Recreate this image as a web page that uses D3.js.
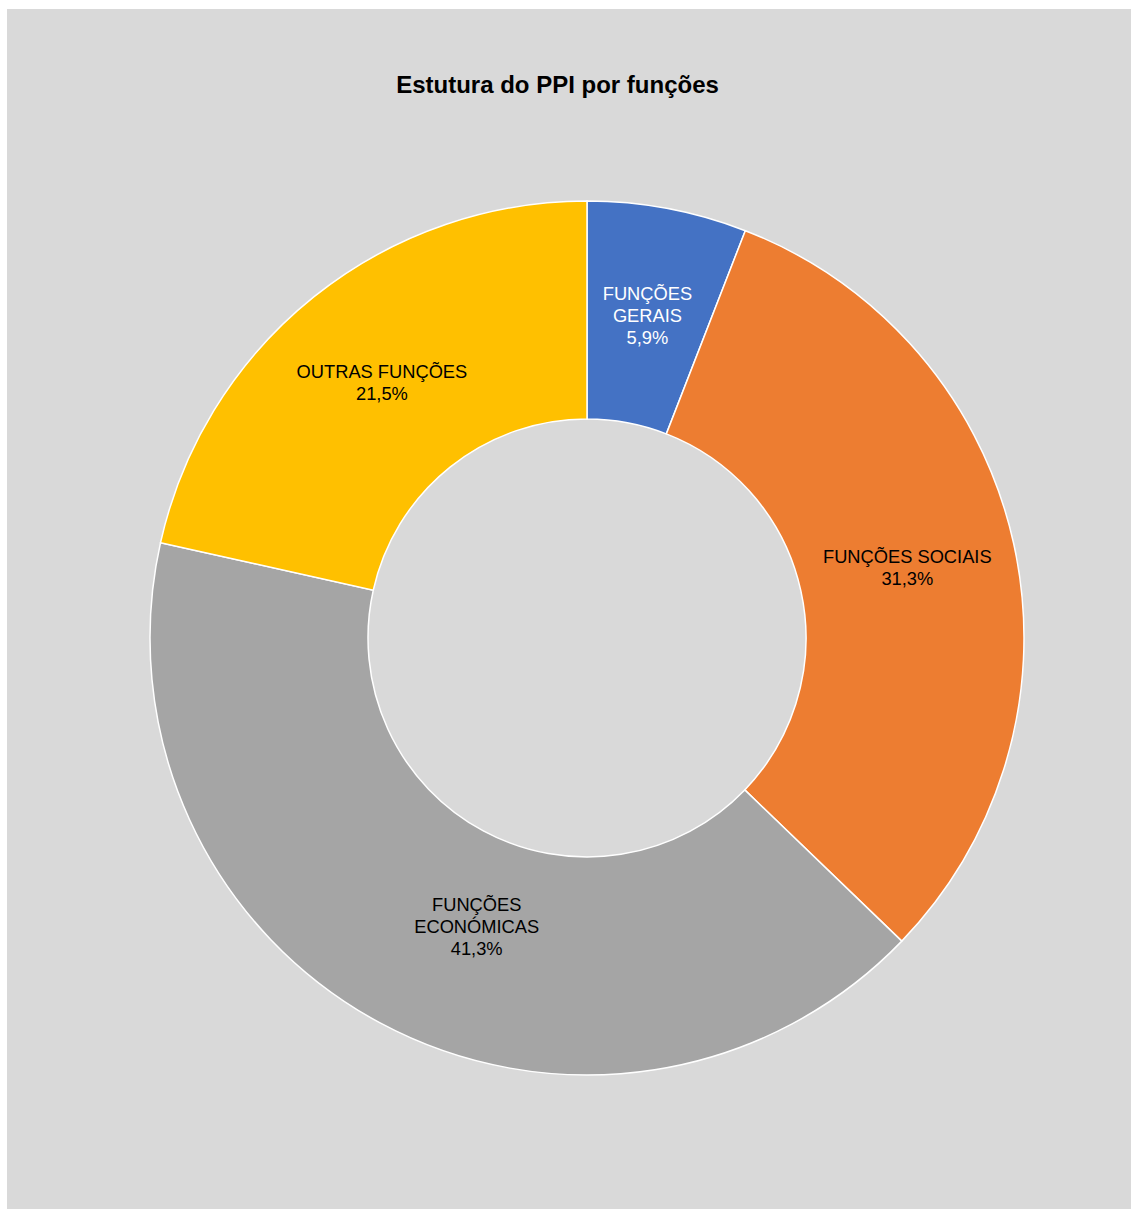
<!DOCTYPE html>
<html>
<head>
<meta charset="utf-8">
<script src="https://cdn.jsdelivr.net/npm/d3@7"></script>
<style>
  html, body { margin: 0; padding: 0; background: #ffffff; }
  svg { display: block; }
  text { font-family: "Liberation Sans", Arial, sans-serif; }
</style>
</head>
<body>
<svg id="chart" width="1131" height="1209"></svg>
<script>
// Estrutura do PPI por funções (%)
const categories = ["FUNÇÕES GERAIS", "FUNÇÕES SOCIAIS", "FUNÇÕES ECONÓMICAS", "OUTRAS FUNÇÕES"];
const labelLines = [["FUNÇÕES", "GERAIS"], ["FUNÇÕES SOCIAIS"], ["FUNÇÕES", "ECONÓMICAS"], ["OUTRAS FUNÇÕES"]];
const values = [5.9, 31.3, 41.3, 21.5];
const colors = ["#4472c4", "#ed7d31", "#a5a5a5", "#ffc000"];
const textColors = ["#ffffff", "#000000", "#000000", "#000000"];

const svg = d3.select("#chart");
const W = 1131, H = 1209;

// panel background
svg.append("rect")
  .attr("x", 7).attr("y", 9)
  .attr("width", W - 7).attr("height", H - 9)
  .attr("fill", "#d9d9d9");

svg.append("text")
  .attr("x", 557.5).attr("y", 93)
  .attr("text-anchor", "middle")
  .attr("font-size", 24)
  .attr("font-weight", "bold")
  .attr("fill", "#000")
  .text("Estutura do PPI por funções");

const cx = 587, cy = 638, outerR = 437, innerR = 219;

const data = categories.map((c, i) => ({ name: c, value: values[i], i }));
const pie = d3.pie().value(d => d.value).sort(null);
const arc = d3.arc().innerRadius(innerR).outerRadius(outerR);

const g = svg.append("g").attr("transform", `translate(${cx},${cy})`);
const arcs = pie(data);

g.selectAll("path.slice")
  .data(arcs)
  .join("path")
  .attr("class", "slice")
  .attr("d", arc)
  .attr("fill", d => colors[d.data.i])
  .attr("stroke", "#ffffff")
  .attr("stroke-width", 1.5);

const fmt = v => d3.format(".1f")(v).replace(".", ",") + "%";
const lineH = 22;
// horizontal nudge for the economic-functions label
const labelShiftX = [0, 0, 45, 0];

arcs.forEach(a => {
  const [x0, y] = arc.centroid(a);
  const x = x0 + labelShiftX[a.data.i];
  const lines = labelLines[a.data.i].concat([fmt(a.data.value)]);
  const n = lines.length;
  const t = g.append("text")
    .attr("text-anchor", "middle")
    .attr("font-size", 18.3)
    .attr("fill", textColors[a.data.i]);
  lines.forEach((ln, k) => {
    t.append("tspan")
      .attr("x", x)
      .attr("y", y + (k - (n - 1) / 2) * lineH + 6.5)
      .text(ln);
  });
});
</script>
</body>
</html>
